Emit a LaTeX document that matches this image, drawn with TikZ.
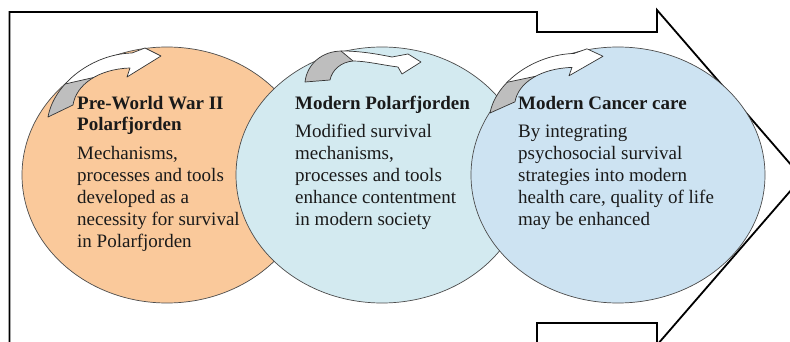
\documentclass[tikz,border=0pt]{standalone}
\usepackage{fontspec}
\setmainfont{Liberation Serif}
\definecolor{peach}{HTML}{FAC99B}
\definecolor{mist}{HTML}{D3EAF0}
\definecolor{sky}{HTML}{CDE3F2}
\definecolor{ink}{HTML}{1A1A1A}
\definecolor{ribbon}{HTML}{BEBEBE}
% outline of the tall twisted curved arrow, in its own local frame
\newcommand\twistshape[1]{%
  \path[#1] (0,0) .. controls (6,-34) and (45,-63) .. (84,-64)
    -- (97,-69) -- (113,-61) -- (79,-40) -- (82,-49)
    .. controls (50,-48) and (28,-32) .. (25,-12) -- cycle;}
% outline of the flat arched arrow over the middle stage
\newcommand\archshape[1]{%
  \path[#1] (305,82) .. controls (307,64) and (322,51) .. (342,51)
    .. controls (360,51) and (377,54) .. (392,57)
    -- (408,54) -- (421,62) -- (402,74) -- (398,67)
    .. controls (382,65) and (366,61) .. (353,61)
    .. controls (341,62) and (332,70) .. (330,80) -- cycle;}
\begin{document}
\begin{tikzpicture}[x=1pt,y=-1pt,
  frame/.style={draw=black, line width=1.8pt, line join=miter},
  bubble/.style={draw=black!70, line width=0.7pt},
  outline/.style={draw=black!80, line width=0.7pt, line join=round},
  title/.style={font=\fontsize{19}{21}\selectfont\bfseries, text=ink, anchor=base west, inner sep=0pt},
  body/.style={font=\fontsize{19}{22}\selectfont, text=ink, anchor=base west, inner sep=0pt},
  twistarrow/.pic={
    \twistshape{fill=white}
    \begin{scope}
      \clip (-20,10) -- (-20,-26) -- (17,-33) -- (45.6,-39.5) -- (65,-20) -- (65,10) -- cycle;
      \twistshape{fill=ribbon}
    \end{scope}
    \twistshape{outline}
    \draw[outline] (17,-33) -- (45.6,-39.5);
  }]
\useasboundingbox (0,0) rectangle (790,342);
\clip (0,0) rectangle (790,342);
\fill[white] (0,0) rectangle (790,342);

% large block arrow behind the three stages
\draw[frame] (9.5,360) -- (9.5,12) -- (537,12) -- (537,32) -- (657,32) -- (657,10)
  -- (802,177.5) -- (657,345) -- (657,323) -- (537,323) -- (537,360);

% the three stages
\path[bubble, fill=peach] (167,175) ellipse [x radius=145, y radius=128];
\path[bubble, fill=mist]  (382,175) ellipse [x radius=146, y radius=128];
\path[bubble, fill=sky]   (618,175) ellipse [x radius=147, y radius=128];

% curved arrows at the top of each stage
\pic at (48,117) {twistarrow};
\archshape{fill=white}
\begin{scope}
  \clip (290,90) -- (290,45) -- (340,45) -- (341,51) -- (353,61) -- (360,90) -- cycle;
  \archshape{fill=ribbon}
\end{scope}
\archshape{outline}
\draw[outline] (341,51) -- (353,61);
\pic[xscale=1.0, yscale=0.93] at (490,113) {twistarrow};

% texts
\node[title] (t1) at (77,110) {\begin{tabular}[t]{@{}l@{}}Pre-World War II\\Polarfjorden\end{tabular}};
\node[body] (b1) at (77,160) {\begin{tabular}[t]{@{}l@{}}Mechanisms,\\processes and tools\\developed as a\\necessity for survival\\in Polarfjorden\end{tabular}};
\node[title] (t2) at (295,110) {Modern Polarfjorden};
\node[body] (b2) at (295,138) {\begin{tabular}[t]{@{}l@{}}Modified survival\\mechanisms,\\processes and tools\\enhance contentment\\in modern society\end{tabular}};
\node[title] (t3) at (518,110) {Modern Cancer care};
\node[body] (b3) at (518,138) {\begin{tabular}[t]{@{}l@{}}By integrating\\psychosocial survival\\strategies into modern\\health care, quality of life\\may be enhanced\end{tabular}};
\end{tikzpicture}
\end{document}
